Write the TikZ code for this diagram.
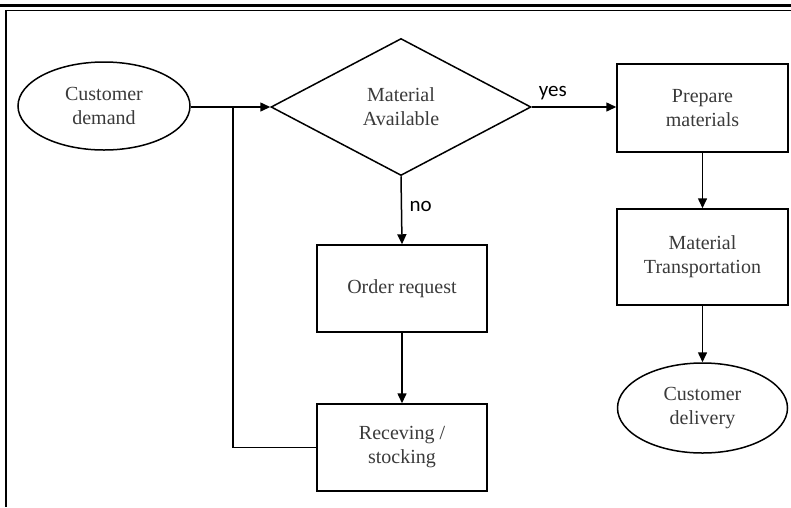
\documentclass[tikz,border=0pt]{standalone}
\usepackage{fontspec}
\setmainfont{Liberation Serif}
\newfontfamily\labelfont{Carlito}
\usetikzlibrary{arrows.meta}
\usetikzlibrary{shapes.geometric}
\usetikzlibrary{positioning}
\definecolor{inkgray}{HTML}{3A3A3A}
\tikzset{flowbox/.style = {draw, line width=1.5pt, rectangle, minimum width=170pt,
                           minimum height=87pt, align=center, text=inkgray,
                           font=\fontsize{20}{24}\selectfont},
         endpoint/.style = {draw, line width=1.5pt, ellipse, inner sep=0pt, align=center,
                            text=inkgray, font=\fontsize{20}{24}\selectfont},
         decision/.style = {draw, line width=1.5pt, diamond, inner sep=0pt, align=center,
                            minimum width=260pt, minimum height=137pt, text=inkgray,
                            font=\fontsize{20}{24}\selectfont},
         flowarrow/.style = {draw, line width=1.5pt, -{Triangle[length=10pt, width=9pt]}},
         answer/.style = {anchor=base, font=\labelfont\fontsize{21}{25}\selectfont}}

\begin{document}
\begin{tikzpicture}[x=1pt, y=-1pt]
      \useasboundingbox (0, 0) rectangle (791, 507);
      \draw [line width=3pt] (0, 5.5) -- (791, 5.5);
      \draw [line width=1pt] (6, 10.5) -- (791, 10.5);
      \draw [line width=2pt] (6, 10) -- (6, 507);
      \node [endpoint, minimum width=172pt, minimum height=88pt] (demand) at (104, 106) {Customer\\demand};
      \node [decision] (avail) at (401, 107) {Material\\Available};
      \node [flowbox, minimum width=171pt, minimum height=88pt] (prepare) at (702.5, 108) {Prepare\\materials};
      \node [flowbox, minimum width=171pt, minimum height=96pt] (transport) at (702.5, 257) {Material\\Transportation};
      \node [endpoint, minimum width=170pt, minimum height=90pt] (delivery) at (702.5, 408) {Customer\\delivery};
      \node [flowbox] (order) at (402, 288.5) {Order request};
      \node [flowbox] (stock) at (402, 447.5) {Receving /\\stocking};
      \coordinate (join) at (233, 107);
      \draw [flowarrow] (demand.east |- join) -- (avail.west);
      \draw [flowarrow] (avail.east) -- (prepare.west |- avail.east) node [answer, pos=0.25, above=3pt] {yes};
      \draw [flowarrow] (avail.south) -- (order.north) node [answer, pos=0.45, right=4pt] {no};
      \draw [flowarrow] (order) -- (stock);
      \draw [flowarrow] (prepare) -- (transport);
      \draw [flowarrow] (transport) -- (delivery);
      \draw [line width=1.5pt] (stock.west) -| (join);
    \end{tikzpicture}
\end{document}
